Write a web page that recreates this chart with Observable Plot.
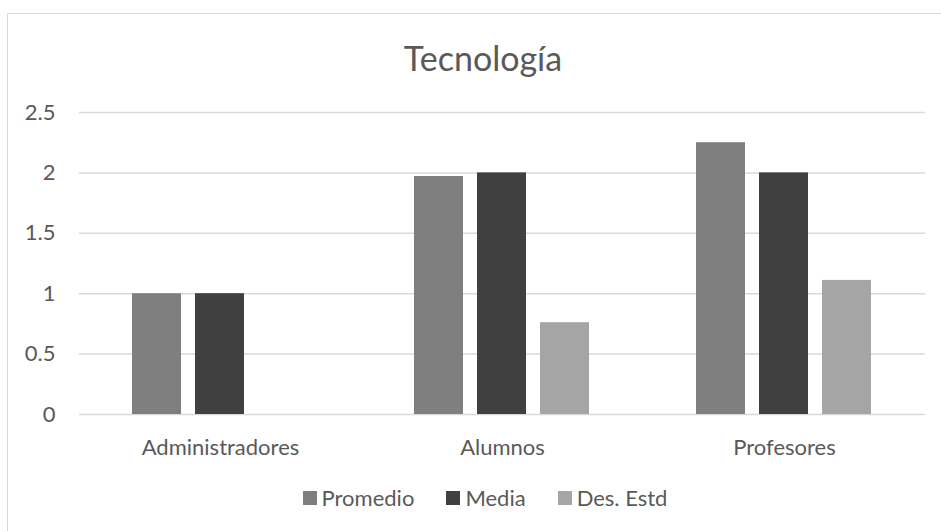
<!DOCTYPE html>
<html>
<head>
<meta charset="utf-8">
<script src="https://cdn.jsdelivr.net/npm/d3@7"></script>
<script src="https://cdn.jsdelivr.net/npm/@observablehq/plot@0.6"></script>
<style>
  body { margin: 0; background: #fff; }
  #wrap { position: relative; width: 941px; height: 531px; overflow: hidden; font-family: Lato, "Open Sans", sans-serif; color: #595959; }
  #frame { position: absolute; left: 7px; top: 13px; width: 980px; height: 600px; border: 1px solid #d9d9d9; box-sizing: border-box; }
  #chart { position: absolute; left: 0; top: 0; }
  #title { position: absolute; left: 25px; width: 916px; top: 38px; text-align: center; font-size: 34px; line-height: 40px; white-space: nowrap; }
  #legend { position: absolute; left: 0; width: 970px; top: 485px; display: flex; justify-content: center; align-items: center; font-size: 22px; line-height: 26px; white-space: nowrap; }
  .item { display: flex; align-items: center; margin: 0 16px; }
  .sw { width: 14px; height: 14px; margin-right: 5px; }
</style>
</head>
<body>
<div id="wrap">
  <div id="frame"></div>
  <div id="chart"></div>
  <div id="title">Tecnología</div>
  <div id="legend"></div>
</div>
<script>
const groups = ["Administradores", "Alumnos", "Profesores"];
const series = ["Promedio", "Media", "Des. Estd"];
const promedio = [1, 1.97, 2.25];
const media = [1, 2, 2];
const desEstd = [0, 0.76, 1.11];
const yTicks = [0, 0.5, 1, 1.5, 2, 2.5];
const colors = ["#7f7f7f", "#404040", "#a5a5a5"];

const values = [promedio, media, desEstd];
const rows = [];
groups.forEach((g, i) => {
  series.forEach((s, j) => rows.push({group: g, series: s, value: values[j][i]}));
});

const chart = Plot.plot({
  width: 941,
  height: 531,
  marginTop: 112,
  marginBottom: 117,
  marginLeft: 79,
  marginRight: 16,
  style: {fontFamily: "Lato, 'Open Sans', sans-serif", fontSize: "22px", color: "#595959", background: "transparent"},
  fx: {domain: groups, padding: 0, label: null, axis: "bottom", tickSize: 0, tickPadding: 25},
  x: {domain: series, paddingInner: 0.222, paddingOuter: 0.849, axis: null},
  y: {domain: [0, 2.5], ticks: yTicks, tickFormat: d => String(d), tickSize: 0, tickPadding: 24, label: null, line: false},
  color: {domain: series, range: colors},
  marks: [
    Plot.ruleY(yTicks, {stroke: "#d9d9d9", strokeWidth: 1.5}),
    Plot.barY(rows, {fx: "group", x: "series", y: "value", fill: "series"})
  ]
});
document.getElementById("chart").appendChild(chart);

const legend = document.getElementById("legend");
series.forEach((s, j) => {
  const it = document.createElement("div");
  it.className = "item";
  const sw = document.createElement("div");
  sw.className = "sw";
  sw.style.background = colors[j];
  const t = document.createElement("span");
  t.textContent = s;
  it.appendChild(sw);
  it.appendChild(t);
  legend.appendChild(it);
});
</script>
</body>
</html>
